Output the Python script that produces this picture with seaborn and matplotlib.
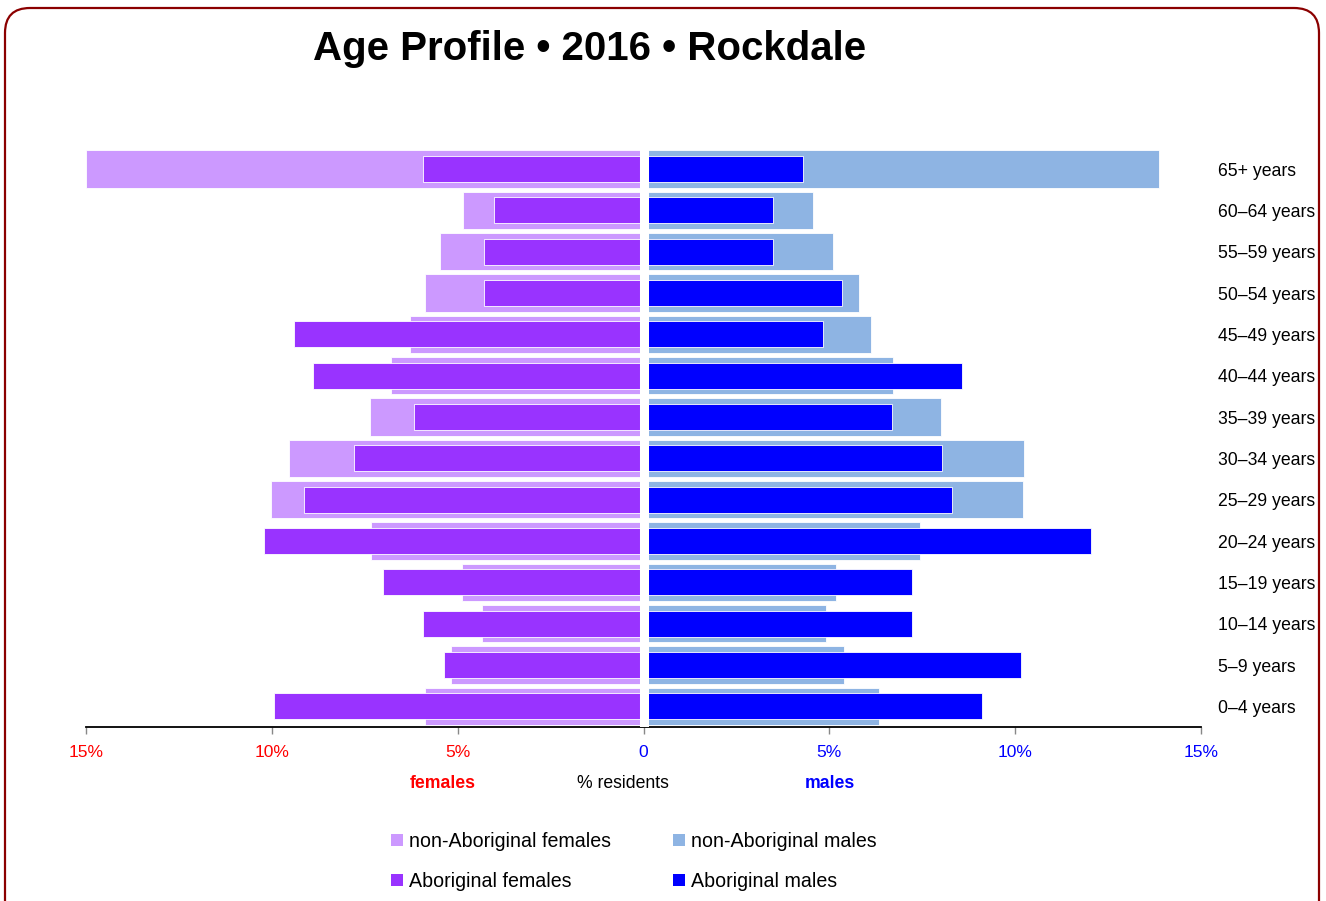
import matplotlib
matplotlib.use("Agg")
import matplotlib.pyplot as plt
from matplotlib.patches import Patch, FancyBboxPatch
import seaborn as sns
import pandas as pd

# ---------------- data ----------------
age_groups = ["65+ years", "60\u201364 years", "55\u201359 years", "50\u201354 years",
              "45\u201349 years", "40\u201344 years", "35\u201339 years", "30\u201334 years",
              "25\u201329 years", "20\u201324 years", "15\u201319 years", "10\u201314 years",
              "5\u20139 years", "0\u20134 years"]
non_abor_females = [15.0, 4.85, 5.47, 5.89, 6.29, 6.80, 7.37, 9.53, 10.03, 7.32, 4.87, 4.35, 5.18, 5.89]
abor_females     = [5.92, 4.02, 4.30, 4.30, 9.40, 8.88, 6.18, 7.79, 9.13, 10.22, 7.00, 5.92, 5.38, 9.95]
non_abor_males   = [13.88, 4.57, 5.11, 5.79, 6.12, 6.70, 8.01, 10.23, 10.20, 7.44, 5.18, 4.90, 5.40, 6.34]
abor_males       = [4.28, 3.48, 3.48, 5.35, 4.82, 8.57, 6.69, 8.04, 8.31, 12.05, 7.23, 7.23, 10.17, 9.10]
tick_values = [-15, -10, -5, 0, 5, 10, 15]
tick_labels = ["15%", "10%", "5%", "0", "5%", "10%", "15%"]

# ---------------- style ----------------
sns.set_theme(style="white")
plt.rcParams["font.family"] = ["Liberation Sans", "DejaVu Sans"]

C_NF = "#CC99FF"
C_AF = "#9933FF"
C_NM = "#8EB4E3"
C_AM = "#0000FF"

W, H, DPI = 1326, 901, 100
fig = plt.figure(figsize=(W / DPI, H / DPI), dpi=DPI)
fig.patch.set_facecolor("white")

def px(x, y):
    return x / W, 1 - y / H

ax = fig.add_axes([86 / W, 1 - 727 / H, (1201 - 86) / W, (727 - 148.35) / H])

df = pd.DataFrame({
    "age": age_groups,
    "nf": [-v for v in non_abor_females],
    "af": [-v for v in abor_females],
    "nm": non_abor_males,
    "am": abor_males,
})

common = dict(y="age", data=df, order=age_groups, orient="h", saturation=1,
              edgecolor="white", linewidth=0.6, ax=ax)
sns.barplot(x="nf", color=C_NF, width=0.91, **common)
sns.barplot(x="nm", color=C_NM, width=0.91, **common)
sns.barplot(x="af", color=C_AF, width=0.63, **common)
sns.barplot(x="am", color=C_AM, width=0.63, **common)

ax.axvline(0, color="white", lw=6.5, zorder=5)

ax.set_xlim(-15, 15)
ax.set_ylim(len(age_groups) - 0.5, -0.5)
ax.set_xlabel("")
ax.set_ylabel("")
ax.set_facecolor("white")
for s in ["top", "left", "right"]:
    ax.spines[s].set_visible(False)
ax.spines["bottom"].set_color("black")
ax.spines["bottom"].set_linewidth(1.3)

ax.set_xticks(tick_values)
ax.set_xticklabels(tick_labels, fontsize=12.6)
ax.tick_params(axis="x", direction="out", length=5, width=1, color="#888888", pad=8, bottom=True)
for lbl, v in zip(ax.get_xticklabels(), tick_values):
    lbl.set_color("#FF0000" if v < 0 else "#0000FF")

ax.yaxis.tick_right()
ax.tick_params(axis="y", length=0, pad=12, labelsize=12.7, right=False, left=False)
for lbl in ax.get_yticklabels():
    lbl.set_color("black")
    lbl.set_ha("left")

# axis captions
fig.text(*px(443, 783), "females", color="#FF0000", fontsize=12.7, fontweight="bold", ha="center", va="center")
fig.text(*px(623, 783), "% residents", color="black", fontsize=12.7, ha="center", va="center")
fig.text(*px(830, 783), "males", color="#0000FF", fontsize=12.7, fontweight="bold", ha="center", va="center")

# title
fig.text(*px(590, 49), "Age Profile \u2022 2016 \u2022 Rockdale", fontsize=29, fontweight="bold",
         color="black", ha="center", va="center")

# legend
handles = [Patch(facecolor=C_NF, edgecolor="none"), Patch(facecolor=C_AF, edgecolor="none"),
           Patch(facecolor=C_NM, edgecolor="none"), Patch(facecolor=C_AM, edgecolor="none")]
labels = ["non-Aboriginal females", "Aboriginal females", "non-Aboriginal males", "Aboriginal males"]
fig.legend(handles, labels, ncol=2, loc="upper left", bbox_to_anchor=px(383, 824),
           frameon=False, fontsize=14.1, handlelength=0.61, handleheight=0.61,
           handletextpad=0.3, columnspacing=3.2, labelspacing=1.07, borderaxespad=0,
           labelcolor="black")

# rounded frame
frame = FancyBboxPatch((5 / DPI, -0.5), (1319 - 5) / DPI, (H - 8) / DPI + 0.5,
                       boxstyle="round,pad=0,rounding_size=0.25",
                       transform=fig.dpi_scale_trans, facecolor="none",
                       edgecolor="#8B0000", linewidth=1.6, clip_on=False)
fig.add_artist(frame)

fig.savefig("out.png", dpi=DPI, facecolor="white")
